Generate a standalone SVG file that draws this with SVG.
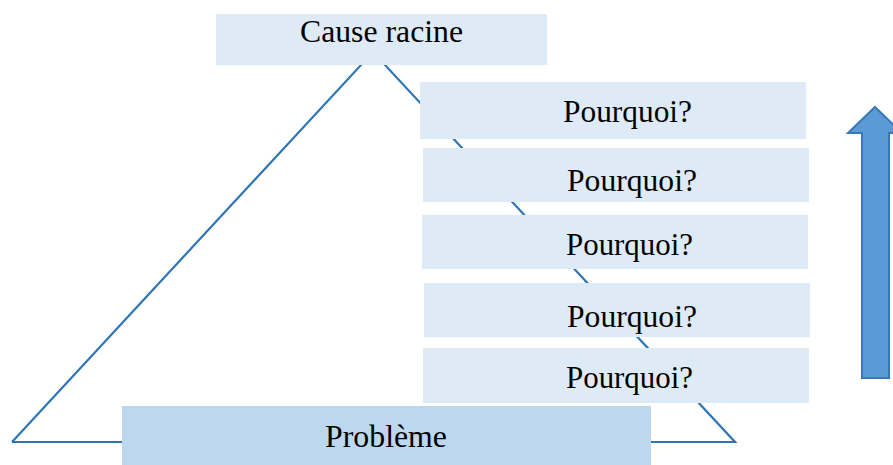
<svg xmlns="http://www.w3.org/2000/svg" width="893" height="465" viewBox="0 0 893 465">
  <style>
    .edge { fill: none; stroke: #2E75B6; stroke-width: 2.2; stroke-linejoin: miter; }
    .why { fill: #DEEAF6; }
    .base { fill: #BDD7EE; }
    .lbl { font-family: "Liberation Serif", "Times New Roman", serif; font-size: 31px; fill: #000; }
    .up { fill: #5B9BD5; stroke: #3A78B5; stroke-width: 2; }
  </style>
  <defs>
    <clipPath id="clip-why2"><rect x="423" y="148" width="386" height="54"/></clipPath>
    <clipPath id="clip-why4"><rect x="424" y="283" width="386" height="54"/></clipPath>
  </defs>

  <!-- triangle outline behind the boxes -->
  <g id="connectors">
    <polyline class="edge" points="12,442 373,52 735,442 12,442"/>
  </g>

  <g id="cause-racine">
    <rect class="why" x="216" y="14" width="331" height="51"/>
    <text class="lbl" x="300" y="42" textLength="163" lengthAdjust="spacingAndGlyphs">Cause racine</text>
  </g>

  <g id="pourquoi-1">
    <rect class="why" x="420" y="82" width="386" height="57"/>
    <text class="lbl" x="563" y="122" textLength="129" lengthAdjust="spacingAndGlyphs">Pourquoi?</text>
  </g>

  <g id="pourquoi-2">
    <rect class="why" x="423" y="148" width="386" height="54"/>
    <text class="lbl" x="567" y="191" textLength="130" lengthAdjust="spacingAndGlyphs" clip-path="url(#clip-why2)">Pourquoi?</text>
  </g>

  <g id="pourquoi-3">
    <rect class="why" x="422" y="215" width="386" height="54"/>
    <text class="lbl" x="566" y="255" textLength="127" lengthAdjust="spacingAndGlyphs">Pourquoi?</text>
  </g>

  <g id="pourquoi-4">
    <rect class="why" x="424" y="283" width="386" height="54"/>
    <text class="lbl" x="567" y="327" textLength="130" lengthAdjust="spacingAndGlyphs" clip-path="url(#clip-why4)">Pourquoi?</text>
  </g>

  <g id="pourquoi-5">
    <rect class="why" x="423" y="348" width="386" height="55"/>
    <text class="lbl" x="566" y="388" textLength="127" lengthAdjust="spacingAndGlyphs">Pourquoi?</text>
  </g>

  <g id="probleme">
    <rect class="base" x="122" y="406" width="529" height="59"/>
    <text class="lbl" x="325" y="447" textLength="122" lengthAdjust="spacingAndGlyphs">Problème</text>
  </g>

  <g id="fleche">
    <polygon class="up" points="875,107 902,133 889,133 889,378 862,378 862,133 848,133"/>
  </g>
</svg>
